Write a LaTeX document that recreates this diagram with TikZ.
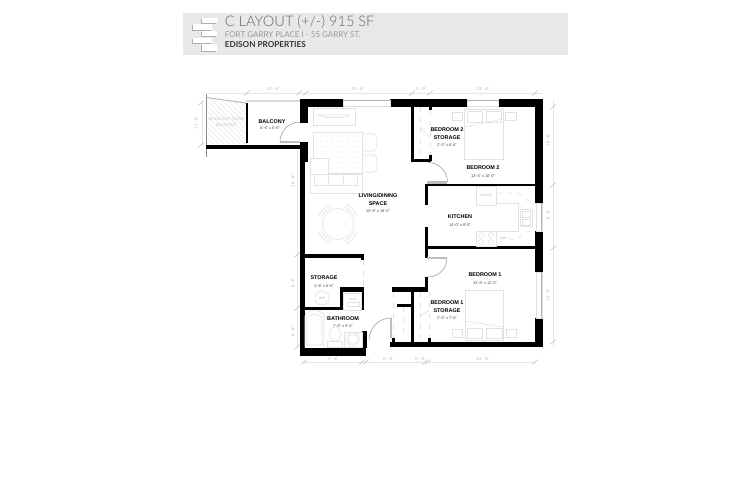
\documentclass[tikz,border=0pt]{standalone}
\usepackage{xcolor}
\usepackage{fontspec}
\setmainfont{Liberation Sans}
\newfontfamily\headfont{Lato Light}
\newfontfamily\subfont{Lato}
\usetikzlibrary{positioning,patterns,shadows}
\definecolor{furn}{HTML}{E2E2E2}
\definecolor{glass}{HTML}{BDBDBD}
\tikzset{
    wall/.style={fill=black,draw=none},
    brick/.style={fill=white,draw=none,drop shadow={shadow xshift=-0.5pt,shadow yshift=-0.8pt,fill=black,opacity=.25}},
    furniture/.style={draw=furn,line width=0.35pt},
    dashline/.style={draw=furn,dashed,line width=0.35pt},
    dimline/.style={draw=black!10,line width=0.3pt},
    tick/.style={draw=black!25,line width=0.3pt},
    roomlabel/.style={font=\fontsize{3.1}{4.3}\selectfont\bfseries,align=center,inner sep=0pt,yshift=-0.4pt},
    sizelabel/.style={font=\fontsize{2.2}{3}\selectfont,text=black!75,inner sep=0pt,yshift=-0.3pt},
    dimlabel/.style={font=\fontsize{2.2}{3}\selectfont,text=black!35,inner sep=0pt},
    faintlabel/.style={font=\fontsize{1.8}{2.4}\selectfont,text=black!30,inner sep=0pt,align=center},
    doorleaf/.style={fill=glass,draw=none},
    swing/.style={draw=black!40,line width=0.3pt},
}
\begin{document}
\begin{tikzpicture}[x=0.02cm,y=-0.02cm]
    \useasboundingbox (0,0) rectangle (750,500);
    \fill[white] (0,0) rectangle (750,500);

    % Title block
    \fill[black!9] (182.5,13) rectangle (568,55.5);
    \foreach \xa/\ya/\xb/\yb in {202/18/217/23, 193/24/212/30, 202/31/217/36, 193/38/212/43, 202/44/217/51}
        \fill[brick] (\xa,\ya) rectangle (\xb,\yb);
    \node[anchor=west,inner sep=0pt,text=black!60,font=\headfont\fontsize{8.3}{10}\selectfont] (title) at (224.5,22) {C LAYOUT (+/-) 915 SF};
    \node[anchor=west,inner sep=0pt,text=black!40,font=\subfont\fontsize{4.55}{5}\selectfont] (address) at (224.5,35) {FORT GARRY PLACE I - 55 GARRY ST.};
    \node[anchor=west,inner sep=0pt,text=black!80,font=\subfont\bfseries\fontsize{4.65}{5}\selectfont] (owner) at (224.5,44.5) {EDISON PROPERTIES};

    % Adjacent balcony
    \fill[pattern=north west lines,pattern color=black!7] (207,98) -- (246,103) -- (246,145) -- (207,145) -- cycle;
    \draw[glass,line width=0.6pt] (206.5,97.5) -- (246,103);
    \fill[black!15] (246,100) rectangle (300,102.5);
    \draw[black!45,line width=0.3pt] (206.5,94) -- (206.5,157);
    \node[faintlabel,font=\fontsize{2.4}{3}\selectfont,text=black!22] (adjacent) at (226.5,122) {ADJACENT SUITE\\BALCONY};

    % Walls
    \foreach \xa/\ya/\xb/\yb in {
        300/99/343/107, 300/99/308/123, 300/142/308/162, 300/162/304.5/348,
        206/145/300/149, 245.5/103/248/143,
        390/99/467/107, 498.5/99/543/107, 535/99/543/203, 535/231/543/272, 535/318/543/347,
        411/107/414/161, 411/159/431/161.5, 429/107/432/110, 429/155/432/161,
        425/183.5/535/186, 425/183.5/428/205, 425/227/428/249, 425/246/535/249,
        425/249/428/258, 425/277/428/292, 392/287/428/292, 390/342/543/347,
        410.5/290/414/342, 397/304/410.5/307, 392/338/395/342, 428/338/431/342,
        304/254/364/258, 361/254/364/260, 340/287/364/292, 340/287/343/310, 304/307/343/310,
        362/287/364/310, 362/331/367/348, 300/348/366/356}
        \fill[wall] (\xa,\ya) rectangle (\xb,\yb);

    % Windows
    \foreach \xa/\ya/\xb/\yb in {343/100/390/106, 467/100/498.5/106, 536/203/542/231, 536/272/542/318}
        \draw[black!12,line width=0.3pt] (\xa,\ya) rectangle (\xb,\yb);
    \fill[black!30] (343,100) rectangle (390,101.5);
    \fill[black!30] (467,100) rectangle (498.5,101.5);
    \fill[black!30] (540.5,203) rectangle (542,231);
    \fill[black!30] (540.5,272) rectangle (542,318);

    % Doors
    \fill[doorleaf] (280,141) rectangle (300,143);
    \draw[swing] (280,142) arc[start angle=180,end angle=270,radius=20];
    \fill[doorleaf] (427,181) rectangle (447,183.5);
    \draw[swing] (447.5,182) arc[start angle=0,end angle=-90,radius=19.5];
    \fill[doorleaf] (427,257) rectangle (447,259);
    \draw[swing] (447,258) arc[start angle=0,end angle=90,radius=19];
    \fill[doorleaf] (390,318) rectangle (392,338);
    \draw[swing] (391,318) arc[start angle=270,end angle=180,radius=22];

    % Closet doors
    \foreach \xa/\ya/\yb in {420/107/155, 430/110/155, 393/292/338, 403/307/338, 420/292/338, 429/292/338, 363/260/285}
        \draw[dashline] (\xa,\ya) -- (\xa,\yb);
    \draw[furniture] (420,127) -- (430,138);
    \draw[furniture] (420,316) -- (430,310);

    % Kitchen
    \draw[furniture] (476,186) rectangle (496,205);
    \node[faintlabel] (fridge) at (486,195) {FRIDGE};
    \draw[dashline] (496,193) -- (518,193) -- (528,201) -- (534,201);
    \draw[furniture] (496,203) -- (518,203) -- (518,231) -- (496,231);
    \draw[furniture] (520,209) rectangle (532,226);
    \draw[furniture] (522,211) rectangle (530,217);
    \draw[furniture] (522,219) rectangle (530,225);
    \draw[furniture] (476,231) rectangle (496,246);
    \foreach \cx/\cy in {481/235, 491/235, 481/242, 491/242}
        \draw[furniture] (\cx,\cy) circle[radius=2.5];
    \node[faintlabel] (washer) at (503,238.5) {D/W};
    \draw[dashline] (508,239) -- (517,239) -- (525,232) -- (534,232);

    % Bed room 2
    \draw[furniture] (464,109) rectangle (503,159);
    \draw[furniture] (464,127) -- (503,119);
    \draw[furniture] (467,111) rectangle (482,122);
    \draw[furniture] (486,111) rectangle (501,122);
    \draw[furniture] (452,112) rectangle (462,120);
    \draw[furniture] (505,112) rectangle (516,120);

    % Bed room 1
    \draw[furniture] (465,290) rectangle (503,340);
    \draw[furniture] (465,321) -- (503,327);
    \draw[furniture] (467,328) rectangle (482,338);
    \draw[furniture] (486,328) rectangle (502,338);
    \draw[furniture] (452,329) rectangle (462,337);
    \draw[furniture] (506,329) rectangle (516,337);

    % Living room
    \draw[furniture] (313,108) rectangle (355,125);
    \draw[furniture] (318,115) -- (350,115) -- (344,117.5) -- (324,117.5) -- cycle;
    \fill[pattern=dots,pattern color=black!4] (313,132) rectangle (362,173);
    \draw[furniture] (313,132) rectangle (362,173);
    \draw[furniture,fill=white] (310,158) rectangle (328,174);
    \draw[furniture] (310,174) rectangle (362,193);
    \draw[furniture] (314,174) -- (314,185) -- (357,185) -- (357,174);
    \draw[furniture] (328,174) -- (328,185);
    \draw[furniture] (343,174) -- (343,185);
    \draw[furniture] (362,134) -- (374,134) .. controls (378,134) and (378,151) .. (374,151) -- (362,151);
    \draw[furniture] (362,155) -- (374,155) .. controls (378,155) and (378,172) .. (374,172) -- (362,172);
    \draw[furniture] (338,224) circle[radius=15.5];
    \foreach \ang in {45,135,225,315} {
        \draw[furniture] ({338+18*cos(\ang-22)},{224+18*sin(\ang-22)}) arc[start angle=\ang-22,end angle=\ang+22,radius=18];
        \draw[furniture] ({338+21*cos(\ang-22)},{224+21*sin(\ang-22)}) arc[start angle=\ang-22,end angle=\ang+22,radius=21];
    }

    % Storage and bathroom
    \draw[furniture] (322,298) circle[radius=7];
    \node[faintlabel] (wd) at (322,298) {W/D};
    \draw[furniture] (343,293) rectangle (361,310);
    \draw[furniture] (347,302) rectangle (359,306);
    \node[faintlabel] (shelf) at (353,299) {W/H};
    \draw[furniture] (305,347) -- (305,316) .. controls (305,309) and (324,309) .. (324,316) -- (324,347);
    \draw[furniture] (307,345) -- (307,319) .. controls (307,313) and (322,313) .. (322,319) -- (322,345) -- cycle;
    \draw[furniture] (327,341) rectangle (342,347);
    \draw[furniture] (335,334) ellipse[x radius=5.5,y radius=7];
    \draw[furniture] (344,332) rectangle (362,347);
    \draw[furniture] (353,339) circle[radius=6.5];
    \draw[furniture] (353,339) circle[radius=5];

    % Dimensions
    \draw[dimline] (206,93) -- (543,93);
    \draw[dimline] (553,99) -- (553,347);
    \draw[dimline] (297,149) -- (297,348);
    \draw[dimline] (202,103) -- (202,145);
    \draw[dimline] (303,362) -- (536,362);
    \foreach \tx/\ty in {247/93, 299/93, 306/93, 412/93, 430/93, 535/93, 304/362, 362/362, 366/362, 425/362, 428/362, 535/362, 553/107, 553/185, 553/248, 553/342, 297/255, 297/308, 297/347, 201/103, 201/145}
        \draw[tick] (\tx-3,\ty+2.5) -- (\tx+3,\ty-2.5);
    \node[dimlabel,rotate=90] (dimW) at (196,123) {13' - 6"};
    \node[dimlabel] (dimA) at (273,89.5) {13' - 6"};
    \node[dimlabel] (dimB) at (358,89.5) {13' - 6"};
    \node[dimlabel] (dimC) at (421,89.5) {2' - 0"};
    \node[dimlabel] (dimD) at (483,89.5) {13' - 6"};
    \node[dimlabel] (dimE) at (333,359) {7' - 6"};
    \node[dimlabel] (dimF) at (388,359) {6' - 0"};
    \node[dimlabel] (dimG) at (420,359) {2' - 0"};
    \node[dimlabel] (dimH) at (483,359) {13' - 6"};
    \node[dimlabel,rotate=90] (dimJ) at (293,181) {19' - 0"};
    \node[dimlabel,rotate=90] (dimK) at (293,283) {6' - 6"};
    \node[dimlabel,rotate=90] (dimL) at (293,332) {5' - 0"};
    \node[dimlabel,rotate=90] (dimM) at (548,140) {10' - 0"};
    \node[dimlabel,rotate=90] (dimN) at (548,215) {8' - 0"};
    \node[dimlabel,rotate=90] (dimP) at (548,295) {12' - 0"};

    % Room labels
    \node[roomlabel] (balcony) at (272,121) {BALCONY};
    \node[sizelabel] (balconysize) at (270,128) {6'-6" x 5'-6"};
    \node[roomlabel] (living) at (378,199) {LIVING/DINING\\SPACE};
    \node[sizelabel] (livingsize) at (378,211) {13'-6" x 19'-0"};
    \node[roomlabel] (store2) at (447,133) {BEDROOM 2\\STORAGE};
    \node[sizelabel] (store2size) at (447,145) {2'-0" x 6'-6"};
    \node[roomlabel] (bed2) at (483,167) {BEDROOM 2};
    \node[sizelabel] (bed2size) at (483,175.5) {13'-6" x 10'-0"};
    \node[roomlabel] (kitchen) at (460,216) {KITCHEN};
    \node[sizelabel] (kitchensize) at (460,225) {14'-0" x 8'-0"};
    \node[roomlabel] (bed1) at (485,274) {BEDROOM 1};
    \node[sizelabel] (bed1size) at (485,283) {13'-6" x 12'-0"};
    \node[roomlabel] (store1) at (447,306) {BEDROOM 1\\STORAGE};
    \node[sizelabel] (store1size) at (447,318) {2'-0" x 7'-0"};
    \node[roomlabel] (storage) at (324,277) {STORAGE};
    \node[sizelabel] (storagesize) at (324,286) {4'-6" x 6'-6"};
    \node[roomlabel] (bathroom) at (343,318) {BATHROOM};
    \node[sizelabel] (bathsize) at (343,326) {7'-6" x 5'-0"};
\end{tikzpicture}
\end{document}
